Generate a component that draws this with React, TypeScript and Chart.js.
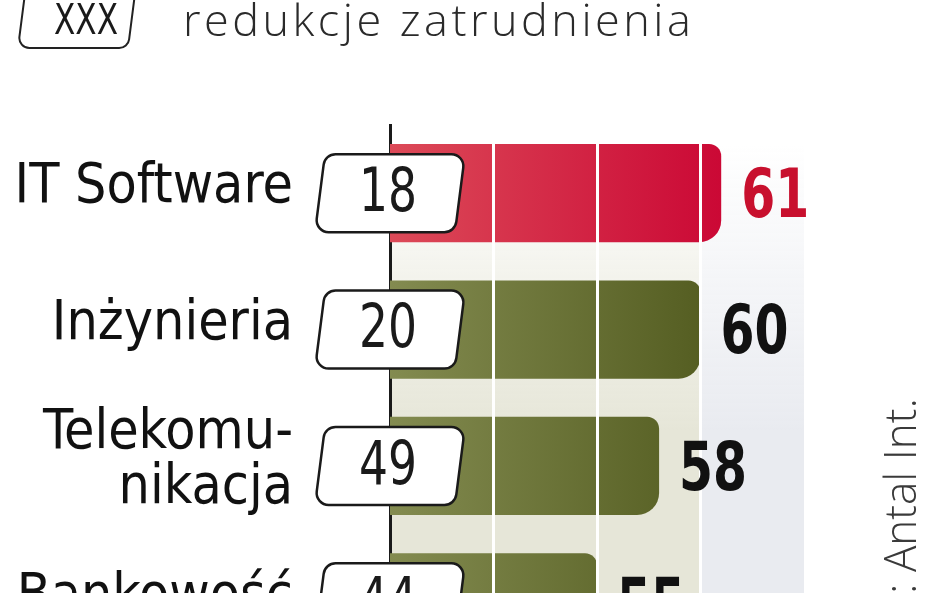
import React, { useRef, useEffect } from 'react';
import { Chart, registerables } from 'chart.js';
Chart.register(...registerables);

const categories: (string | string[])[] = ['IT Software', 'Inżynieria', ['Telekomu-', 'nikacja'], 'Bankowość'];
const mainValues = [61, 60, 58, 55];
const boxValues = [18, 20, 49, 44];
const gridTicks = [50, 55, 60];
const titleText = 'redukcje zatrudnienia';
const legendText = 'XXX';
const sourceText = 'Źródło: Antal Int.';

const NARROW = "'Liberation Sans Narrow', 'DejaVu Sans Condensed', 'Roboto', sans-serif";
const LIGHT = "'Open Sans', 'Lato', sans-serif";

// rounded parallelogram (slanted sides like the original boxes)
function slantBox(ctx: CanvasRenderingContext2D, x1: number, y1: number, w: number, h: number, slant: number, r: number) {
  const tl = [x1 + slant, y1], tr = [x1 + w + slant, y1], br = [x1 + w, y1 + h], bl = [x1, y1 + h];
  ctx.beginPath();
  ctx.moveTo((tl[0] + tr[0]) / 2, y1);
  ctx.arcTo(tr[0], tr[1], br[0], br[1], r);
  ctx.arcTo(br[0], br[1], bl[0], bl[1], r);
  ctx.arcTo(bl[0], bl[1], tl[0], tl[1], r);
  ctx.arcTo(tl[0], tl[1], tr[0], tr[1], r);
  ctx.closePath();
}

const decor = {
  id: 'decor',
  beforeDraw(chart: any) {
    const { ctx, chartArea, scales } = chart;
    const x = scales.x;
    const top = chartArea.top + 18;
    const bottom = chart.height;
    const x0 = x.getPixelForValue(45), x60 = x.getPixelForValue(60), x65 = x.getPixelForValue(65);
    ctx.save();
    const vg = ctx.createLinearGradient(0, top, 0, 430);
    vg.addColorStop(0, 'rgba(230,230,216,0)');
    vg.addColorStop(1, 'rgba(230,230,216,1)');
    ctx.fillStyle = vg;
    ctx.fillRect(x0, top, x60 - x0, bottom - top);
    const vg2 = ctx.createLinearGradient(0, top, 0, 430);
    vg2.addColorStop(0, 'rgba(233,235,240,0)');
    vg2.addColorStop(1, 'rgba(233,235,240,1)');
    ctx.fillStyle = vg2;
    ctx.fillRect(x60, top, x65 - x60, bottom - top);
    ctx.restore();
  },
  afterDraw(chart: any) {
    const { ctx } = chart;
    const meta = chart.getDatasetMeta(0);
    ctx.save();
    meta.data.forEach((bar: any, i: number) => {
      const cy = bar.y;
      // boxed number
      slantBox(ctx, 315, cy - 39, 140, 78, 10, 12);
      ctx.fillStyle = '#fff';
      ctx.fill();
      ctx.lineWidth = 2.5;
      ctx.strokeStyle = '#1a1a1a';
      ctx.stroke();
      ctx.fillStyle = '#1a1a1a';
      ctx.font = `60px ${NARROW}`;
      ctx.textAlign = 'center';
      ctx.textBaseline = 'middle';
      ctx.fillText(String(boxValues[i]), 388, cy + 2, 58);
      // value
      ctx.font = `bold 68px ${NARROW}`;
      ctx.textAlign = 'left';
      ctx.fillStyle = i === 0 ? '#c8102e' : '#111';
      ctx.fillText(String(mainValues[i]), bar.x + 20, cy + 6, 68);
    });
    // title
    ctx.fillStyle = '#2a2a2a';
    ctx.font = `300 45px ${LIGHT}`;
    (ctx as any).letterSpacing = '3.5px';
    ctx.textAlign = 'left';
    ctx.textBaseline = 'alphabetic';
    ctx.fillText(titleText, 183, 36, 515);
    (ctx as any).letterSpacing = '0px';
    // legend box
    slantBox(ctx, 18, -30, 110, 78, 10, 10);
    ctx.fillStyle = '#fff';
    ctx.fill();
    ctx.lineWidth = 2;
    ctx.strokeStyle = '#222';
    ctx.stroke();
    ctx.fillStyle = '#1a1a1a';
    ctx.font = `43px ${NARROW}`;
    ctx.textAlign = 'center';
    ctx.fillText(legendText, 86, 34, 64);
    // source, rotated
    ctx.translate(916, 398);
    ctx.rotate(-Math.PI / 2);
    ctx.font = `300 44px ${LIGHT}`;
    ctx.fillStyle = '#3a3a3a';
    ctx.textAlign = 'right';
    ctx.textBaseline = 'alphabetic';
    ctx.fillText(sourceText, 0, 0);
    ctx.restore();
  },
};

const App: React.FC = () => {
  const chartRef = useRef<HTMLCanvasElement | null>(null);
  const chartInstance = useRef<Chart | null>(null);

  useEffect(() => {
    document.body.style.margin = '0';
    if (chartInstance.current) {
      chartInstance.current.destroy();
    }
    const myChartRef = chartRef.current?.getContext('2d');
    if (myChartRef) {
      chartInstance.current = new Chart(myChartRef, {
        type: 'bar',
        data: {
          labels: categories,
          datasets: [
            {
              data: mainValues,
              backgroundColor: (c: any) => {
                const ch = c.chart;
                const a = ch.chartArea;
                const red = c.dataIndex === 0;
                if (!a) return red ? '#d2233f' : '#6b7336';
                const g = ch.ctx.createLinearGradient(a.left, 0, ch.scales.x.getPixelForValue(61), 0);
                g.addColorStop(0, red ? '#dc4a58' : '#838b50');
                g.addColorStop(1, red ? '#cb0835' : '#525b1f');
                return g;
              },
              borderRadius: { topLeft: 0, bottomLeft: 0, topRight: 12, bottomRight: 22 },
              borderSkipped: false,
              barPercentage: 0.72,
              categoryPercentage: 1,
            },
          ],
        },
        options: {
          indexAxis: 'y',
          animation: false,
          responsive: false,
          events: [],
          layout: { padding: { top: 125, right: 144, bottom: 27, left: 0 } },
          plugins: { legend: { display: false }, tooltip: { enabled: false } },
          scales: {
            x: {
              min: 45,
              max: 65,
              ticks: { display: false, stepSize: 5 },
              border: { display: false },
              grid: {
                z: 1,
                drawTicks: false,
                lineWidth: 3,
                color: (c: any) => (gridTicks.includes(c.tick?.value) ? '#ffffff' : 'rgba(0,0,0,0)'),
              },
              afterFit: (s: any) => { s.height = 0; },
            },
            y: {
              grid: { display: true, drawOnChartArea: false, drawTicks: true, tickLength: 95, tickColor: 'rgba(0,0,0,0)' },
              border: { display: true, color: '#1a1a1a', width: 3 },
              ticks: {
                padding: 2,
                labelOffset: -5,
                color: '#111',
                font: { family: NARROW, size: 55, lineHeight: 1.0 },
              },
              afterFit: (s: any) => { s.width = 390; },
            },
          },
        },
        plugins: [decor],
      } as any);
    }
    return () => {
      if (chartInstance.current) {
        chartInstance.current.destroy();
      }
    };
  }, []);

  return (
    <div style={{ width: 948, height: 593, overflow: 'hidden', position: 'relative' }}>
      <canvas ref={chartRef} width={948} height={700} style={{ width: 948, height: 700 }} />
    </div>
  );
};

export default App;
